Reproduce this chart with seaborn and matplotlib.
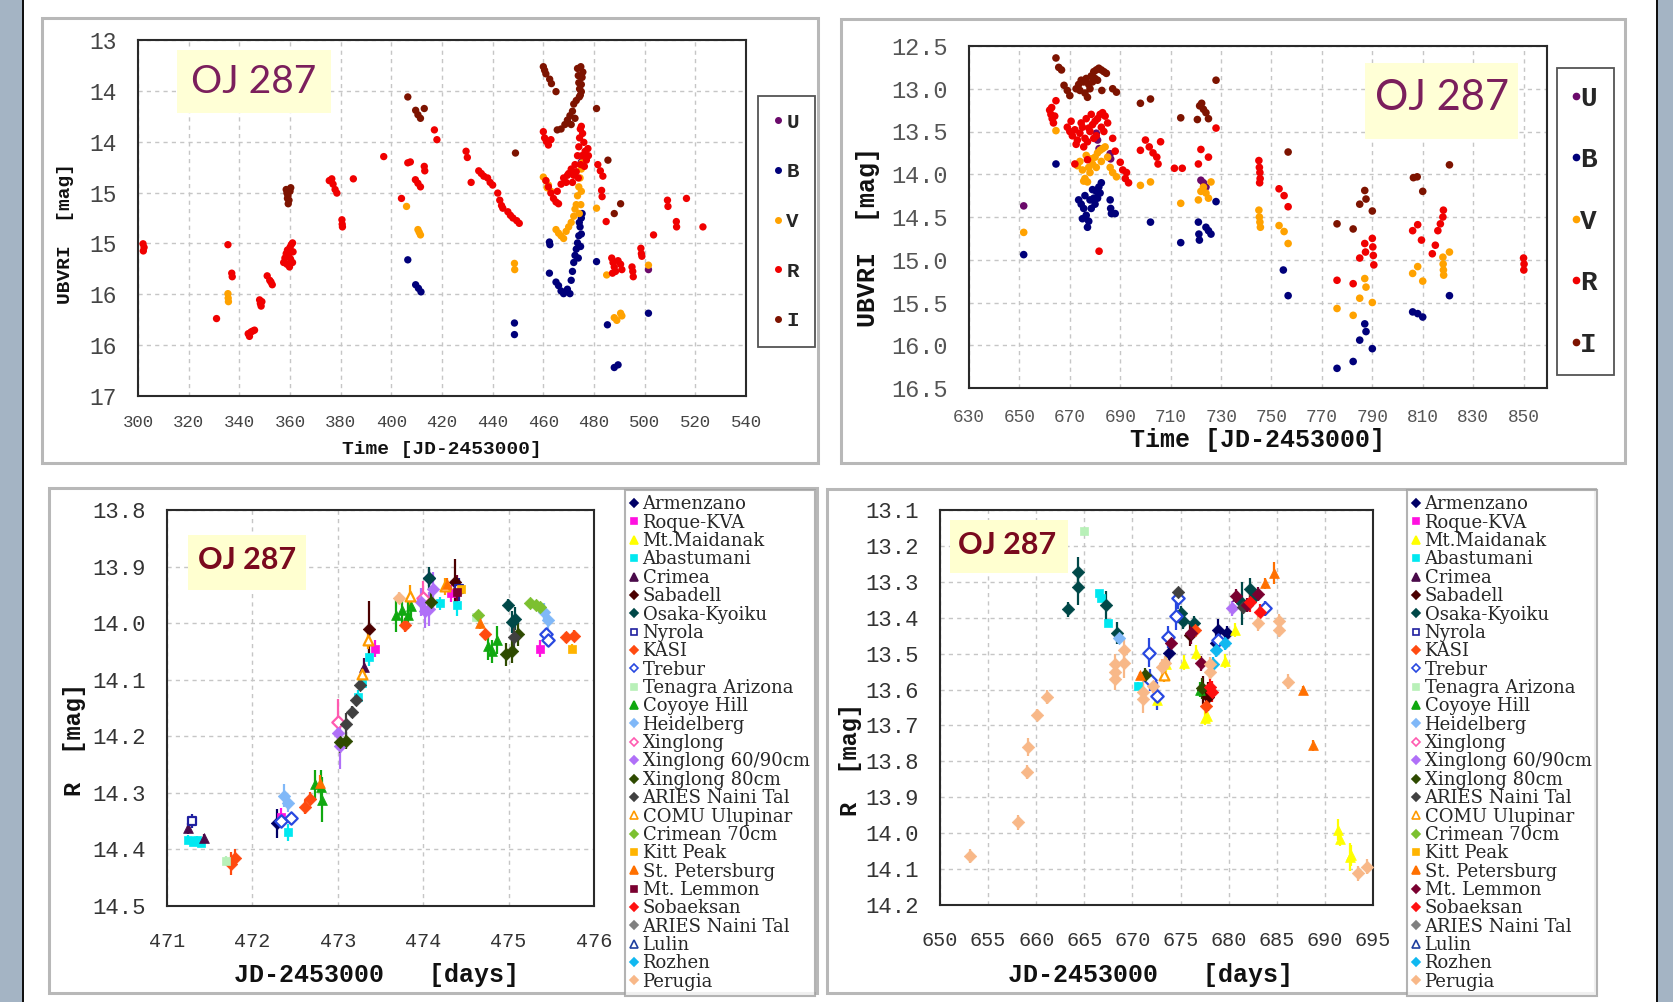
import numpy as np
import pandas as pd
import matplotlib
matplotlib.use("Agg")
import matplotlib.pyplot as plt
import seaborn as sns
from matplotlib.patches import Rectangle
from matplotlib.lines import Line2D
from matplotlib.ticker import MultipleLocator, AutoMinorLocator

# ---------------- data: top-left (JD 300-540) ----------------
tl_U_t = [475.0, 501.5]
tl_U_m = [14.37, 15.58]
tl_B_t = [406.5, 409.6, 410.7, 411.7, 448.6, 448.6, 462.4, 462.6, 462.4, 465.0, 466.0, 467.0, 468.0, 469.5,
          470.5, 471.0, 471.5, 472.0, 472.5, 473.0, 473.5, 474.0, 474.5, 475.0, 475.3, 475.0, 474.7, 474.2, 473.8,
          481.0, 485.3, 488.0, 489.5, 501.5]
tl_B_m = [15.47, 15.75, 15.79, 15.83, 16.18, 16.31, 15.27, 15.30, 15.62, 15.72, 15.76, 15.82, 15.85, 15.80,
          15.85, 15.70, 15.60, 15.50, 15.42, 15.35, 15.28, 15.20, 15.10, 15.00, 14.95, 15.18, 15.32, 15.05, 15.45,
          15.49, 16.20, 16.68, 16.65, 16.07]
tl_V_t = [335.5, 335.6, 335.7, 406.0, 410.5, 411.0, 411.5, 448.6, 448.7, 460.0, 461.0, 462.0, 463.0, 461.5,
          465.0, 466.0, 467.0, 468.0, 469.0, 470.0, 471.0, 472.0, 472.5, 473.0, 473.5, 474.0, 474.5, 475.0, 475.3,
          475.0, 474.8, 474.2, 481.0, 485.0, 488.0, 489.0, 490.5, 491.0, 501.5]
tl_V_m = [15.85, 15.90, 15.94, 14.87, 15.13, 15.16, 15.19, 15.51, 15.58, 14.54, 14.58, 14.63, 14.70, 14.66,
          15.13, 15.17, 15.20, 15.23, 15.15, 15.10, 15.05, 14.98, 14.90, 14.85, 14.75, 14.65, 14.55, 14.45, 14.38,
          14.70, 14.85, 14.95, 14.89, 15.64, 16.12, 16.15, 16.07, 16.10, 15.53]
tl_R_t = [302.0, 302.4, 302.1, 331.0, 335.5, 337.0, 337.2, 343.5, 344.0, 344.6, 345.3, 346.0,
          348.0, 348.3, 348.6, 348.9, 351.0, 352.0, 353.0, 352.5,
          357.5, 358.0, 358.5, 359.0, 359.5, 360.0, 360.5, 361.0, 358.8, 360.2, 361.2, 359.8, 361.0,
          375.5, 376.5, 377.0, 377.8, 378.5, 385.0, 380.5, 380.6, 380.7, 397.0, 404.0, 406.5, 407.5,
          409.5, 410.5, 411.5, 413.0, 413.2, 417.0, 418.0, 429.5, 430.0, 431.5, 434.5, 435.5, 436.5,
          438.0, 439.0, 440.0, 442.0, 442.8, 443.5, 444.0, 446.0, 447.0, 448.0, 449.5, 450.5,
          460.0, 460.5, 461.2, 462.0, 463.0, 461.0, 462.0, 463.0, 464.0, 465.0, 466.0, 465.5,
          467.0, 468.0, 469.0, 470.0, 471.0, 472.0, 473.0, 471.5, 469.5, 472.5, 473.5, 474.0, 474.3, 474.6,
          475.0, 475.5, 476.0, 476.5, 477.0, 474.8, 473.8, 475.2, 476.2, 477.6, 477.8,
          481.5, 482.5, 483.5, 483.0, 483.2, 484.8, 487.0, 487.5, 488.0, 488.5, 489.5, 490.5, 491.0, 487.3,
          495.0, 495.3, 495.5, 498.5, 498.7, 498.9, 503.5, 509.0, 509.2, 512.5, 512.6, 516.5, 523.0]
tl_R_m = [15.29, 15.33, 15.37, 16.13, 15.30, 15.62, 15.66, 16.30, 16.33, 16.28, 16.27, 16.26,
          15.92, 15.96, 15.99, 15.94, 15.65, 15.70, 15.75, 15.72,
          15.50, 15.45, 15.40, 15.36, 15.42, 15.33, 15.30, 15.28, 15.52, 15.46, 15.38, 15.55, 15.50,
          14.58, 14.56, 14.62, 14.68, 14.72, 14.56, 15.02, 15.07, 15.10, 14.31, 14.78, 14.38, 14.37,
          14.57, 14.61, 14.65, 14.42, 14.47, 14.01, 14.12, 14.25, 14.32, 14.60, 14.47, 14.50, 14.53,
          14.55, 14.60, 14.63, 14.72, 14.80, 14.86, 14.89, 14.93, 14.97, 15.00, 15.03, 15.06,
          14.03, 14.10, 14.14, 14.18, 14.12, 14.58, 14.65, 14.72, 14.78, 14.82, 14.84, 14.70,
          14.62, 14.55, 14.60, 14.50, 14.45, 14.52, 14.48, 14.60, 14.52, 14.40, 14.30, 14.20, 14.10, 14.00,
          13.97, 14.05, 14.15, 14.25, 14.35, 14.40, 14.55, 14.30, 14.42, 14.22, 14.30,
          14.40, 14.47, 14.53, 14.69, 14.76, 15.04, 15.45, 15.50, 15.55, 15.60, 15.48, 15.52, 15.58, 15.62,
          15.55, 15.60, 15.66, 15.34, 15.40, 15.43, 15.19, 14.80, 14.87, 15.04, 15.10, 14.78, 15.10]
tl_I_t = [358.5, 358.8, 359.0, 359.3, 359.6, 360.0, 360.3, 359.2, 406.5, 409.6, 410.5, 411.5, 413.0, 449.0,
          460.0, 460.5, 461.0, 462.5, 463.2, 465.0, 465.5, 467.0, 468.5, 469.5, 470.5, 471.5, 472.0, 473.0,
          471.0, 472.5, 473.5, 473.8, 474.0, 474.3, 474.6, 475.0, 475.3, 475.6, 474.8, 475.0, 474.2,
          481.0, 485.5, 488.0, 490.5]
tl_I_m = [14.68, 14.72, 14.78, 14.84, 14.80, 14.70, 14.66, 14.75, 13.64, 13.79, 13.84, 13.88, 13.77, 14.27,
          13.30, 13.34, 13.38, 13.44, 13.49, 13.58, 14.01, 14.00, 13.95, 13.90, 13.85, 13.80, 13.72, 13.68,
          13.95, 13.88, 13.32, 13.40, 13.48, 13.55, 13.62, 13.50, 13.42, 13.36, 13.30, 13.58, 13.64,
          13.77, 14.35, 14.95, 14.84]

# ---------------- data: top-right (JD 630-860) ----------------
tr_U_t = [651.7, 680.5, 681.0, 681.6, 686.0, 686.2, 722.0, 723.0, 724.0]
tr_U_m = [14.37, 13.52, 13.60, 13.70, 13.76, 13.82, 14.07, 14.10, 14.15]
tr_B_t = [651.7, 664.5, 673.5, 674.5, 675.5, 676.5, 677.0, 677.5, 678.5, 679.5, 680.5, 681.5, 682.5, 676.0,
          678.0, 680.0, 682.0, 675.0, 679.0, 681.0, 686.0, 686.2, 686.5, 688.0, 702.0, 714.0, 721.0, 721.2,
          721.4, 724.0, 725.0, 726.0, 728.0, 754.7, 756.6, 776.0, 782.4, 785.0, 787.0, 787.5, 790.0,
          806.0, 808.0, 810.0, 820.6]
tr_B_m = [14.94, 13.88, 14.30, 14.35, 14.40, 14.48, 14.62, 14.55, 14.40, 14.28, 14.20, 14.15, 14.10, 14.25,
          14.30, 14.35, 14.22, 14.52, 14.18, 14.28, 14.30, 14.40, 14.46, 14.46, 14.56, 14.80, 14.56, 14.70,
          14.77, 14.62, 14.66, 14.70, 14.32, 15.12, 15.42, 16.27, 16.19, 15.94, 15.75, 15.84, 16.04,
          15.61, 15.63, 15.67, 15.42]
tr_V_t = [651.7, 664.5, 673.0, 674.0, 675.0, 676.0, 677.0, 678.0, 679.0, 680.0, 681.0, 682.0, 683.0, 684.0,
          676.5, 678.5, 675.5, 677.5, 680.5, 682.5, 685.0, 686.0, 687.0, 688.5, 698.0, 702.0, 714.0,
          721.0, 722.0, 723.0, 724.0, 725.0, 726.0, 745.0, 745.2, 745.4, 745.6, 753.0, 755.0, 756.6,
          776.0, 782.4, 785.0, 787.0, 787.5, 790.0, 806.0, 808.0, 810.0, 818.0, 818.1, 818.2, 818.3, 820.6]
tr_V_m = [14.68, 13.49, 13.90, 13.85, 13.95, 14.05, 14.09, 13.98, 13.88, 13.80, 13.75, 13.72, 13.70, 13.68,
          13.78, 13.82, 14.08, 13.92, 13.92, 13.85, 13.80, 13.92, 13.98, 14.03, 14.13, 14.09, 14.34,
          14.30, 14.20, 14.15, 14.22, 14.28, 14.09, 14.42, 14.50, 14.56, 14.62, 14.60, 14.67, 14.81,
          15.57, 15.65, 15.45, 15.22, 15.32, 15.50, 15.16, 15.08, 15.25, 14.97, 15.05, 15.12, 15.18, 14.91]
tr_R_t = [662.0, 662.5, 663.0, 663.5, 662.8, 664.0, 664.5,
          669.0, 670.0, 671.0, 672.0, 673.0, 674.0, 675.0, 676.0, 677.0, 678.0, 679.0, 680.0, 681.0, 682.0,
          683.0, 684.0, 685.0, 670.5, 672.5, 674.5, 676.5, 678.5, 680.5, 682.5, 677.5, 675.5, 679.5, 683.5,
          672.0, 677.0, 681.6, 687.0, 688.0, 690.0, 691.0, 692.0, 693.3, 692.5, 698.0,
          700.0, 701.5, 703.0, 704.5, 706.0, 705.0, 711.5, 714.6, 722.0, 721.0, 725.0, 728.0,
          745.0, 745.2, 745.4, 745.5, 745.3, 753.0, 755.0, 756.6, 776.0, 782.4, 785.0, 787.0, 787.3,
          790.0, 790.2, 790.4, 790.6, 806.0, 808.0, 809.5, 813.8, 815.0, 816.0, 817.0, 818.0, 818.2,
          850.0, 850.2, 850.1]
tr_R_m = [13.25, 13.30, 13.35, 13.40, 13.22, 13.32, 13.14,
          13.45, 13.50, 13.55, 13.48, 13.60, 13.52, 13.45, 13.58, 13.62, 13.50, 13.42, 13.38, 13.35, 13.30,
          13.28, 13.32, 13.40, 13.38, 13.65, 13.40, 13.35, 13.30, 13.55, 13.45, 13.46, 13.68, 13.58, 13.50,
          13.88, 13.83, 14.90, 13.58, 13.73, 13.86, 13.95, 14.05, 14.10, 13.98, 13.72,
          13.60, 13.68, 13.75, 13.80, 13.62, 13.88, 13.93, 13.93, 13.71, 13.88, 13.80, 13.46,
          13.84, 13.92, 13.98, 14.05, 14.10, 14.17, 14.25, 14.38, 15.24, 15.28, 14.98, 14.81, 14.91,
          14.75, 14.85, 14.95, 15.06, 14.66, 14.59, 14.77, 14.93, 14.83, 14.66, 14.58, 14.50, 14.42,
          14.98, 15.05, 15.12]
tr_I_t = [664.5, 665.6, 666.7, 667.7, 669.0, 670.0, 672.5, 673.5, 674.5, 675.5, 676.5, 677.5, 678.5, 679.5,
          680.5, 681.5, 682.5, 683.5, 684.5, 676.0, 677.0, 678.0, 679.0, 680.0, 681.0, 674.0, 682.7,
          687.0, 688.5, 698.0, 702.0, 714.0, 720.6, 721.5, 722.3, 723.0, 724.0, 725.0, 728.0, 756.6,
          776.0, 782.4, 785.0, 787.0, 787.5, 790.0, 806.3, 807.8, 810.0, 820.6]
tr_I_m = [12.64, 12.75, 12.78, 12.96, 13.02, 13.08, 13.00, 12.95, 12.90, 12.92, 12.88, 12.95, 12.85, 12.80,
          12.78, 12.76, 12.78, 12.80, 12.82, 13.05, 13.10, 13.00, 12.92, 12.88, 12.90, 13.02, 13.02,
          13.00, 13.04, 13.17, 13.12, 13.34, 13.36, 13.20, 13.17, 13.24, 13.28, 13.35, 12.90, 13.74,
          14.58, 14.64, 14.35, 14.19, 14.29, 14.43, 14.04, 14.03, 14.20, 13.89]

bands = ["U", "B", "V", "R", "I"]
band_colors = {"U": "#6b0a6b", "B": "#00007a", "V": "#ffa200", "R": "#f00000", "I": "#7d1300"}

# ---------------- telescopes (legend order) ----------------
tel_names = ["Armenzano", "Roque-KVA", "Mt.Maidanak", "Abastumani", "Crimea", "Sabadell", "Osaka-Kyoiku",
             "Nyrola", "KASI", "Trebur", "Tenagra Arizona", "Coyoye Hill", "Heidelberg", "Xinglong",
             "Xinglong 60/90cm", "Xinglong 80cm", "ARIES Naini Tal", "COMU Ulupinar", "Crimean 70cm",
             "Kitt Peak", "St. Petersburg", "Mt. Lemmon", "Sobaeksan", "ARIES Naini Tal 2", "Lulin",
             "Rozhen", "Perugia"]
tel_labels = [n if n != "ARIES Naini Tal 2" else "ARIES Naini Tal" for n in tel_names]
tel_colors = ["#000066", "#ff10e0", "#ffff00", "#00e8f0", "#4a0a4a", "#4a0000", "#004848", "#2020a0",
              "#ff4a10", "#2848e0", "#b8f0b8", "#10a810", "#80b8f8", "#ff5ab0", "#b070f8", "#2e4a00",
              "#404040", "#ff9a00", "#7cc030", "#ffb400", "#ff7000", "#7a0030", "#ff1010", "#808080",
              "#2040a0", "#10b8f0", "#f8b888"]
tel_markers = ["D", "s", "^", "s", "^", "D", "D", "s", "D", "D", "s", "^", "D", "D", "D", "D", "D", "^",
               "D", "s", "^", "s", "D", "D", "^", "D", "D"]
tel_open = [False, False, False, False, False, False, False, True, False, True, False, False, False, True,
            False, False, False, True, False, False, False, False, False, False, True, False, False]

# ---------------- data: bottom-left (R band, JD 471-476) ----------------
bl_tel = (["Crimea"] * 3 + ["Nyrola"] * 2 + ["Abastumani"] * 10 + ["Tenagra Arizona"] * 2 + ["KASI"] * 8 +
          ["Armenzano"] * 2 + ["Trebur"] * 4 + ["Roque-KVA"] * 4 + ["Heidelberg"] * 4 + ["Coyoye Hill"] * 10 +
          ["St. Petersburg"] * 3 + ["Xinglong"] * 2 + ["Xinglong 60/90cm"] * 6 + ["Xinglong 80cm"] * 6 +
          ["ARIES Naini Tal"] * 5 + ["Osaka-Kyoiku"] * 4 + ["COMU Ulupinar"] * 4 + ["Sabadell"] * 2 +
          ["Mt. Lemmon"] * 1 + ["Kitt Peak"] * 2 + ["Crimean 70cm"] * 4 + ["Perugia"] * 1)
bl_t = [471.245, 471.43, 473.31, 471.29, 474.42,
        471.25, 471.30, 471.35, 471.40, 472.42, 473.24, 473.28, 473.37, 474.20, 474.39,
        471.69, 474.62,
        471.75, 471.80, 472.62, 472.68, 473.79, 474.72, 475.67, 475.76,
        472.29, 474.07,
        472.33, 472.45, 475.44, 475.46,
        472.34, 473.44, 475.37, 474.32,
        472.37, 472.42, 475.41, 475.46,
        472.73, 472.80, 472.82, 473.68, 473.75, 473.82, 473.86, 474.76, 474.81, 474.86,
        472.79, 474.28, 474.67,
        473.00, 474.00,
        473.00, 473.03, 473.98, 474.02, 474.07, 474.12,
        473.03, 473.10, 474.09, 474.97, 475.04, 475.11,
        473.10, 473.17, 473.21, 473.26, 475.06,
        474.07, 474.99, 475.04, 475.07,
        473.28, 473.35, 473.84, 474.26,
        473.37, 474.37,
        474.40,
        475.74, 474.44,
        475.25, 475.32, 475.37, 474.64,
        473.72]
bl_m = [14.363, 14.380, 14.077, 14.350, 13.940,
        14.383, 14.386, 14.384, 14.388, 14.370, 14.130, 14.106, 14.060, 13.965, 13.968,
        14.420, 13.990,
        14.425, 14.415, 14.325, 14.310, 14.003, 14.020, 14.025, 14.022,
        14.354, 13.920,
        14.350, 14.345, 14.020, 14.030,
        14.342, 14.045, 14.045, 13.947,
        14.305, 14.318, 13.980, 13.995,
        14.285, 14.290, 14.312, 13.985, 13.977, 13.985, 13.970, 14.040, 14.050, 14.030,
        14.283, 13.930, 14.000,
        14.174, 13.955,
        14.195, 14.218, 13.962, 13.978, 13.975, 13.940,
        14.210, 14.208, 13.962, 14.055, 14.050, 14.020,
        14.178, 14.157, 14.136, 14.109, 14.024,
        13.921, 13.968, 13.998, 13.992,
        14.090, 14.030, 13.952, 13.935,
        14.010, 13.927,
        13.945,
        14.045, 13.940,
        13.965, 13.968, 13.971, 13.985,
        13.955]
bl_e = [0.010, 0.008, 0.015, 0.012, 0.020,
        0.008, 0.008, 0.008, 0.008, 0.015, 0.012, 0.012, 0.015, 0.012, 0.020,
        0.008, 0.008,
        0.020, 0.015, 0.012, 0.012, 0.012, 0.010, 0.010, 0.010,
        0.025, 0.015,
        0.010, 0.010, 0.012, 0.012,
        0.015, 0.015, 0.015, 0.015,
        0.020, 0.015, 0.015, 0.015,
        0.025, 0.030, 0.040, 0.030, 0.025, 0.025, 0.020, 0.025, 0.020, 0.025,
        0.015, 0.010, 0.010,
        0.040, 0.030,
        0.030, 0.040, 0.025, 0.030, 0.030, 0.030,
        0.020, 0.015, 0.020, 0.020, 0.020, 0.020,
        0.020, 0.010, 0.010, 0.010, 0.020,
        0.020, 0.010, 0.020, 0.020,
        0.010, 0.015, 0.020, 0.015,
        0.050, 0.040,
        0.030,
        0.008, 0.010,
        0.005, 0.005, 0.005, 0.005,
        0.010]

# ---------------- data: bottom-right (R band, JD 650-695) ----------------
br_tel = (["Perugia"] * 24 + ["Tenagra Arizona"] + ["Osaka-Kyoiku"] * 11 + ["Abastumani"] * 4 +
          ["Heidelberg"] + ["St. Petersburg"] * 5 + ["Xinglong 80cm"] * 2 + ["Trebur"] * 8 +
          ["Mt.Maidanak"] * 12 + ["Armenzano"] * 4 + ["Mt. Lemmon"] * 6 + ["ARIES Naini Tal"] * 2 +
          ["Sabadell"] * 3 + ["Sobaeksan"] * 4 + ["KASI"] * 2 + ["Rozhen"] * 3 + ["Xinglong 60/90cm"] +
          ["Coyoye Hill"] + ["COMU Ulupinar"] + ["Crimea"])
br_t = [653.15, 658.08, 659.04, 659.15, 660.10, 661.08, 668.15, 668.15, 668.20, 669.15, 669.15, 671.08,
        671.10, 672.10, 673.08, 673.40, 678.10, 678.10, 683.10, 685.20, 685.20, 686.15, 693.46, 694.42,
        664.92,
        663.27, 664.31, 664.31, 667.30, 668.38, 675.08, 675.30, 676.35, 682.23, 682.77, 681.35,
        666.54, 666.73, 667.50, 670.58,
        668.65,
        670.77, 683.77, 684.73, 687.77, 688.73,
        671.35, 677.23,
        671.73, 671.80, 672.60, 673.65, 674.54, 674.70, 678.92, 683.77,
        672.50, 673.46, 675.38, 676.60, 677.50, 677.70, 679.60, 680.70, 691.35, 691.54, 692.60, 692.75,
        673.85, 678.65, 678.85, 679.80,
        674.04, 676.07, 677.10, 680.77, 681.92, 683.00,
        674.70, 681.50,
        675.96, 677.30, 677.88,
        678.08, 678.27, 682.23, 683.27,
        677.60, 676.50,
        678.65, 679.60, 678.40,
        680.38,
        677.00,
        673.30,
        680.90]
br_m = [14.064, 13.970, 13.830, 13.760, 13.670, 13.620, 13.530, 13.550, 13.570, 13.527, 13.490, 13.625,
        13.606, 13.590, 13.536, 13.527, 13.530, 13.550, 13.416, 13.410, 13.434, 13.578, 14.112, 14.093,
        13.158,
        13.377, 13.272, 13.315, 13.365, 13.443, 13.386, 13.410, 13.416, 13.320, 13.340, 13.360,
        13.332, 13.346, 13.414, 13.590,
        13.457,
        13.560, 13.304, 13.276, 13.600, 13.755,
        13.560, 13.597,
        13.497, 13.573, 13.618, 13.453, 13.395, 13.346, 13.462, 13.374,
        13.630, 13.530, 13.525, 13.497, 13.680, 13.674, 13.520, 13.434, 13.990, 14.015, 14.066, 14.062,
        13.497, 13.470, 13.434, 13.443,
        13.471, 13.442, 13.527, 13.340, 13.365, 13.334,
        13.327, 13.370,
        13.448, 13.601, 13.620,
        13.592, 13.606, 13.355, 13.383,
        13.646, 13.435,
        13.490, 13.470, 13.530,
        13.374,
        13.600,
        13.560,
        13.340]
br_e = [0.020, 0.020, 0.020, 0.025, 0.015, 0.020, 0.030, 0.030, 0.030, 0.040, 0.030, 0.040,
        0.030, 0.020, 0.020, 0.020, 0.020, 0.020, 0.020, 0.020, 0.020, 0.020, 0.020, 0.020,
        0.005,
        0.020, 0.040, 0.050, 0.040, 0.030, 0.020, 0.020, 0.020, 0.030, 0.020, 0.060,
        0.010, 0.010, 0.010, 0.010,
        0.010,
        0.010, 0.015, 0.030, 0.010, 0.015,
        0.020, 0.030,
        0.040, 0.030, 0.040, 0.030, 0.040, 0.030, 0.020, 0.020,
        0.020, 0.020, 0.020, 0.020, 0.020, 0.020, 0.020, 0.020, 0.030, 0.020, 0.040, 0.030,
        0.030, 0.030, 0.030, 0.020,
        0.020, 0.030, 0.020, 0.020, 0.020, 0.020,
        0.010, 0.020,
        0.030, 0.040, 0.040,
        0.030, 0.030, 0.030, 0.020,
        0.030, 0.020,
        0.020, 0.020, 0.020,
        0.020,
        0.020,
        0.020,
        0.010]

# ---------------- axis ticks ----------------
tl_xticks = [300, 320, 340, 360, 380, 400, 420, 440, 460, 480, 500, 520, 540]
tl_yticks = [13.0, 13.5714, 14.1429, 14.7143, 15.2857, 15.8571, 16.4286, 17.0]
tl_yticklabels = ["13", "14", "14", "15", "15", "16", "16", "17"]
tr_xticks = [630, 650, 670, 690, 710, 730, 750, 770, 790, 810, 830, 850]
tr_yticks = [12.5, 13.0, 13.5, 14.0, 14.5, 15.0, 15.5, 16.0, 16.5]
bl_xticks = [471, 472, 473, 474, 475, 476]
bl_yticks = [13.8, 13.9, 14.0, 14.1, 14.2, 14.3, 14.4, 14.5]
br_xticks = [650, 655, 660, 665, 670, 675, 680, 685, 690, 695]
br_yticks = [13.1, 13.2, 13.3, 13.4, 13.5, 13.6, 13.7, 13.8, 13.9, 14.0, 14.1, 14.2]

# ---------------- figure ----------------
sns.set_theme(style="white")
plt.rcParams["font.family"] = ["DejaVu Sans"]
W, H = 1673, 1002
fig = plt.figure(figsize=(W / 100, H / 100), dpi=100)
fig.patch.set_facecolor("white")
MONO = "Liberation Mono"


def px_axes(x0, y0, x1, y1):
    return fig.add_axes([x0 / W, 1 - y1 / H, (x1 - x0) / W, (y1 - y0) / H])


def fig_rect(x0, y0, x1, y1, **kw):
    fig.add_artist(Rectangle((x0 / W, 1 - y1 / H), (x1 - x0) / W, (y1 - y0) / H,
                             transform=fig.transFigure, **kw))


def fig_text(x, y, s, **kw):
    fig.text(x / W, 1 - y / H, s, ha="center", va="center", **kw)


# side strips
fig_rect(0, 0, 22, H, facecolor="#a4b4c4", edgecolor="none", zorder=0)
fig_rect(22, 0, 24, H, facecolor="#101010", edgecolor="none", zorder=0)
fig_rect(1656, 0, 1658, H, facecolor="#101010", edgecolor="none", zorder=0)
fig_rect(1658, 0, W, H, facecolor="#a4b4c4", edgecolor="none", zorder=0)

# panel frames
for (a, b, c, d) in [(42, 18, 818, 463), (841, 19, 1625, 463), (49, 488, 817, 993), (827, 489, 1595, 993)]:
    fig_rect(a, b, c, d, facecolor="none", edgecolor="#b8b8b8", linewidth=2.2, zorder=0)


def style_axes(ax):
    for s in ax.spines.values():
        s.set_visible(True)
        s.set_color("#2a2a2a")
        s.set_linewidth(1.5)
    ax.grid(True, which="major", color="#c6c6c6", linestyle=(0, (3, 3)), linewidth=1.0)
    ax.set_axisbelow(True)
    ax.tick_params(which="both", direction="in", top=False, right=False, colors="#333333")
    ax.tick_params(which="major", length=7, width=1.2)
    ax.tick_params(which="minor", length=4, width=1.0)
    ax.set_xlabel("")
    ax.set_ylabel("")


def band_frame(ts, ms):
    rows = []
    for b in bands:
        for t, m in zip(ts[b], ms[b]):
            rows.append((b, t, m))
    return pd.DataFrame(rows, columns=["band", "t", "m"])


# ---------- top-left ----------
ax1 = px_axes(138, 40, 746, 396)
df1 = band_frame({"U": tl_U_t, "B": tl_B_t, "V": tl_V_t, "R": tl_R_t, "I": tl_I_t},
                 {"U": tl_U_m, "B": tl_B_m, "V": tl_V_m, "R": tl_R_m, "I": tl_I_m})
sns.scatterplot(data=df1, x="t", y="m", hue="band", palette=band_colors, s=28, edgecolor="none",
                legend=False, ax=ax1, zorder=3)
ax1.set_xlim(300, 540)
ax1.set_ylim(17, 13)
style_axes(ax1)
ax1.set_xticks(tl_xticks, [str(v) for v in tl_xticks], fontfamily=MONO, fontsize=12.5, color="#444444")
ax1.set_yticks(tl_yticks, tl_yticklabels, fontfamily=MONO, fontsize=16.5, color="#444444")
ax1.xaxis.set_minor_locator(MultipleLocator(2))
ax1.yaxis.set_minor_locator(AutoMinorLocator(5))
ax1.tick_params(axis="x", which="major", pad=14)
ax1.tick_params(axis="y", which="major", pad=15)
h1 = [Line2D([], [], ls="", marker="o", ms=4, color=band_colors[b]) for b in bands]
leg = ax1.legend(h1, bands, loc="upper left", bbox_to_anchor=(758 / W, 1 - 96 / H),
                 bbox_transform=fig.transFigure, borderaxespad=0, frameon=True, fancybox=False,
                 prop={"family": MONO, "weight": "bold", "size": 15}, labelspacing=1.47, borderpad=0.8,
                 handlelength=0.3, handletextpad=0.25)
leg.get_frame().set_edgecolor("#2a2a2a")
leg.get_frame().set_linewidth(1.3)
fig_rect(177, 50, 331, 113, facecolor="#ffffd6", edgecolor="none", zorder=2)
fig_text(254, 82, "OJ 287", fontfamily="Lato", fontsize=28, color="#7b1f5c", zorder=3)
fig_text(66, 233, "UBVRI  [mag]", rotation=90, fontfamily=MONO, fontweight="bold", fontsize=14, color="#111111")
fig_text(442, 449, "Time [JD-2453000]", fontfamily=MONO, fontweight="bold", fontsize=14, color="#111111")

# ---------- top-right ----------
ax2 = px_axes(969, 46, 1547, 388)
df2 = band_frame({"U": tr_U_t, "B": tr_B_t, "V": tr_V_t, "R": tr_R_t, "I": tr_I_t},
                 {"U": tr_U_m, "B": tr_B_m, "V": tr_V_m, "R": tr_R_m, "I": tr_I_m})
sns.scatterplot(data=df2, x="t", y="m", hue="band", palette=band_colors, s=30, edgecolor="none",
                legend=False, ax=ax2, zorder=3)
ax2.set_xlim(630, 859.3)
ax2.set_ylim(16.5, 12.5)
style_axes(ax2)
ax2.set_xticks(tr_xticks, [str(v) for v in tr_xticks], fontfamily=MONO, fontsize=12.8, color="#555555")
ax2.set_yticks(tr_yticks, ["%.1f" % v for v in tr_yticks], fontfamily=MONO, fontsize=17, color="#555555")
ax2.xaxis.set_minor_locator(MultipleLocator(2))
ax2.yaxis.set_minor_locator(MultipleLocator(0.1))
ax2.tick_params(axis="x", which="major", pad=15)
ax2.tick_params(axis="y", which="major", pad=15)
h2 = [Line2D([], [], ls="", marker="o", ms=4.5, color=band_colors[b]) for b in bands]
leg = ax2.legend(h2, bands, loc="upper left", bbox_to_anchor=(1557 / W, 1 - 68 / H),
                 bbox_transform=fig.transFigure, borderaxespad=0, frameon=True, fancybox=False,
                 prop={"family": MONO, "weight": "bold", "size": 20}, labelspacing=1.28, borderpad=0.63,
                 handlelength=0.1, handletextpad=0.1)
leg.get_frame().set_edgecolor("#2a2a2a")
leg.get_frame().set_linewidth(1.3)
fig_rect(1365, 63, 1518, 139, facecolor="#ffffd6", edgecolor="none", zorder=2)
fig_text(1442, 98, "OJ 287", fontfamily="Lato", fontsize=30, color="#7b1f5c", zorder=3)
fig_text(868, 237, "UBVRI  [mag]", rotation=90, fontfamily=MONO, fontweight="bold", fontsize=18, color="#111111")
fig_text(1257, 440, "Time [JD-2453000]", fontfamily=MONO, fontweight="bold", fontsize=18, color="#111111")


# ---------- bottom panels ----------
def plot_tel(ax, tels, ts, ms, es, markers):
    df = pd.DataFrame({"tel": tels, "t": ts, "m": ms, "e": es})
    for i, name in enumerate(tel_names):
        sub = df[df.tel == name]
        if sub.empty:
            continue
        c = tel_colors[i]
        ax.errorbar(sub.t, sub.m, yerr=sub.e, fmt="none", ecolor=c, elinewidth=1.6, capsize=0, zorder=3)
        size = 50 if markers[i] == "^" else (34 if markers[i] == "s" else 40)
        if tel_open[i]:
            ax.scatter(sub.t, sub.m, marker=markers[i], s=size, facecolors="white", edgecolors=c,
                       linewidths=1.6, zorder=4)
        else:
            sns.scatterplot(data=sub, x="t", y="m", marker=markers[i], color=c, s=size, edgecolor=c,
                            linewidth=0.5, ax=ax, zorder=4, legend=False)


def tel_legend(ax, markers, x0, y0, spacing, pad):
    hs = []
    for i in range(len(tel_names)):
        c = tel_colors[i]
        ms = 5.5 if markers[i] == "^" else 4.5
        hs.append(Line2D([], [], ls="", marker=markers[i], ms=ms, color=c,
                         mfc="white" if tel_open[i] else c, mec=c, mew=1.2))
    lg = ax.legend(hs, tel_labels, loc="upper left", bbox_to_anchor=(x0 / W, 1 - y0 / H),
                   bbox_transform=fig.transFigure, borderaxespad=0, frameon=True, fancybox=False,
                   prop={"family": "DejaVu Serif", "size": 13}, labelspacing=spacing, borderpad=pad,
                   handlelength=0.4, handletextpad=0.27)
    lg.get_frame().set_edgecolor("#a0a0a0")
    lg.get_frame().set_linewidth(1.5)


ax3 = px_axes(167, 510, 594, 906)
plot_tel(ax3, bl_tel, bl_t, bl_m, bl_e, tel_markers)
ax3.set_xlim(471, 476)
ax3.set_ylim(14.5, 13.8)
style_axes(ax3)
ax3.set_xticks(bl_xticks, [str(v) for v in bl_xticks], fontfamily=MONO, fontsize=14.5, color="#333333")
ax3.set_yticks(bl_yticks, ["%.1f" % v for v in bl_yticks], fontfamily=MONO, fontsize=16, color="#333333")
ax3.xaxis.set_minor_locator(MultipleLocator(0.1))
ax3.yaxis.set_minor_locator(MultipleLocator(0.02))
ax3.tick_params(axis="x", which="major", pad=19)
ax3.tick_params(axis="y", which="major", pad=15)
tel_legend(ax3, tel_markers, 625, 490, 0.02, 0.3)
fig_rect(188, 535, 306, 590, facecolor="#ffffd0", edgecolor="none", zorder=2)
fig_text(247, 560, "OJ 287", fontfamily="Lato", fontweight="bold", fontsize=22, color="#7a0a1e", zorder=3)
fig_text(75, 739, "R  [mag]", rotation=90, fontfamily=MONO, fontweight="bold", fontsize=17, color="#111111")
fig_text(376, 975, "JD-2453000   [days]", fontfamily=MONO, fontweight="bold", fontsize=18, color="#111111")

ax4 = px_axes(940, 510, 1373, 905)
br_markers = list(tel_markers)
br_markers[tel_names.index("Mt. Lemmon")] = "D"
plot_tel(ax4, br_tel, br_t, br_m, br_e, br_markers)
ax4.set_xlim(650, 695)
ax4.set_ylim(14.2, 13.1)
style_axes(ax4)
ax4.set_xticks(br_xticks, [str(v) for v in br_xticks], fontfamily=MONO, fontsize=14.5, color="#333333")
ax4.set_yticks(br_yticks, ["%.1f" % v for v in br_yticks], fontfamily=MONO, fontsize=16, color="#333333")
ax4.xaxis.set_minor_locator(MultipleLocator(1))
ax4.yaxis.set_minor_locator(MultipleLocator(0.02))
ax4.tick_params(axis="x", which="major", pad=19)
ax4.tick_params(axis="y", which="major", pad=15)
tel_legend(ax4, br_markers, 1407, 490, 0.02, 0.3)
fig_rect(950, 520, 1068, 573, facecolor="#ffffd0", edgecolor="none", zorder=2)
fig_text(1007, 545, "OJ 287", fontfamily="Lato", fontweight="bold", fontsize=22, color="#7a0a1e", zorder=3)
fig_text(851, 760, "R  [mag]", rotation=90, fontfamily=MONO, fontweight="bold", fontsize=17, color="#111111")
fig_text(1151, 975, "JD-2453000   [days]", fontfamily=MONO, fontweight="bold", fontsize=18, color="#111111")

fig.savefig("out.png", dpi=100, facecolor="white")
